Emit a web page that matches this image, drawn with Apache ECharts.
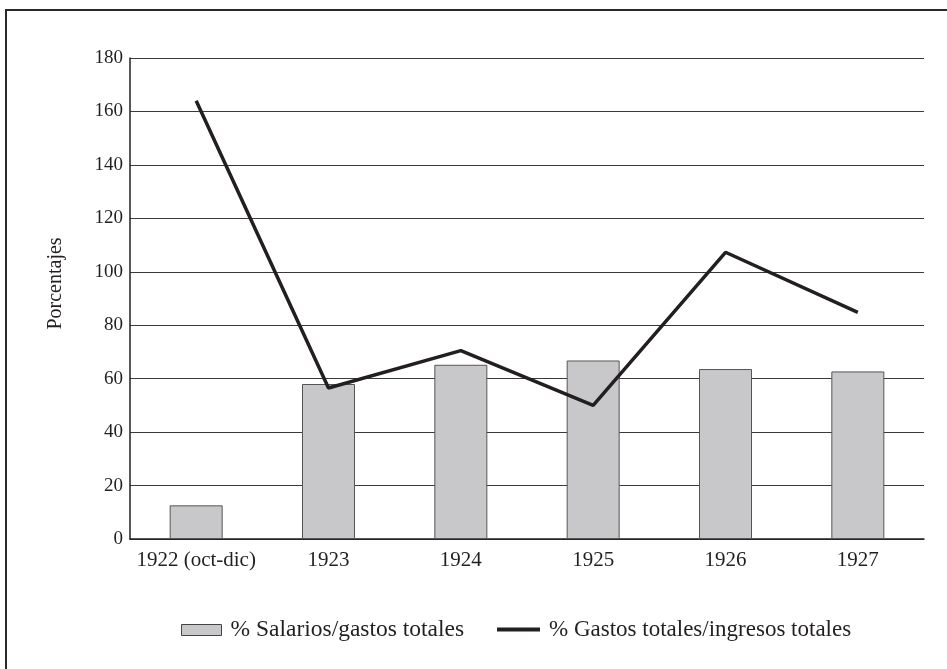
<!DOCTYPE html>
<html>
<head>
<meta charset="utf-8">
<script src="https://cdn.jsdelivr.net/npm/echarts@6/dist/echarts.min.js"></script>
<style>
html,body{margin:0;padding:0;background:#fff;}
#chart{width:947px;height:669px;}
</style>
</head>
<body>
<div id="chart"></div>
<script>
const categories = ['1922 (oct-dic)', '1923', '1924', '1925', '1926', '1927'];
const salariosGastos = [12.6, 58.0, 65.2, 66.8, 63.6, 62.7];
const gastosIngresos = [164, 56.5, 70.5, 50, 107.3, 84.8];
const seriesNames = ['% Salarios/gastos totales', '% Gastos totales/ingresos totales'];
const yAxisName = 'Porcentajes';

const font = '"Liberation Serif", "DejaVu Serif", serif';
const ink = '#231f20';
const chart = echarts.init(document.getElementById('chart'), null, {renderer: 'canvas'});
chart.setOption({
  backgroundColor: '#ffffff',
  animation: false,
  textStyle: {fontFamily: font},
  graphic: [{
    type: 'rect',
    shape: {x: 6, y: 10, width: 1000, height: 700},
    style: {fill: 'none', stroke: '#2a2a2a', lineWidth: 2},
    z: 100
  }],
  grid: {left: 130, right: 23, top: 58, bottom: 130, containLabel: false},
  legend: [
    {
      left: 176, top: 613,
      itemWidth: 40, itemHeight: 11, itemGap: 30,
      textStyle: {fontFamily: font, fontSize: 23.5, color: ink, padding: [0, 0, 0, 4]},
      data: [{name: seriesNames[0], icon: 'rect', itemStyle: {color: '#c8c8ca', borderColor: '#444', borderWidth: 1}}]
    },
    {
      left: 492, top: 613,
      itemWidth: 43, itemHeight: 4, itemGap: 30,
      textStyle: {fontFamily: font, fontSize: 23, color: ink, padding: [0, 0, 0, 4]},
      data: [{name: seriesNames[1], icon: 'rect', itemStyle: {color: ink, borderWidth: 0}}]
    }
  ],
  xAxis: {
    type: 'category',
    data: categories,
    axisLine: {lineStyle: {color: ink, width: 1.5}},
    axisTick: {show: false},
    axisLabel: {fontFamily: font, fontSize: 21, color: ink, margin: 11, interval: 0}
  },
  yAxis: {
    type: 'value',
    min: 0, max: 180, interval: 20,
    name: yAxisName,
    nameLocation: 'middle',
    nameRotate: 90,
    nameGap: 64,
    nameTextStyle: {fontFamily: font, fontSize: 20, color: ink, padding: [0, 0, 0, 30]},
    axisLine: {show: true, lineStyle: {color: ink, width: 1.5}},
    axisTick: {show: false},
    axisLabel: {fontFamily: font, fontSize: 19, color: ink, margin: 7},
    splitLine: {lineStyle: {color: '#3a3a3a', width: 1}}
  },
  series: [
    {
      name: seriesNames[0],
      type: 'bar',
      data: salariosGastos,
      barWidth: 53,
      itemStyle: {color: '#c8c8ca', borderColor: '#555', borderWidth: 1}
    },
    {
      name: seriesNames[1],
      type: 'line',
      data: gastosIngresos,
      symbol: 'none',
      lineStyle: {color: ink, width: 3.5},
      itemStyle: {color: ink},
      z: 5
    }
  ]
});
</script>
</body>
</html>
